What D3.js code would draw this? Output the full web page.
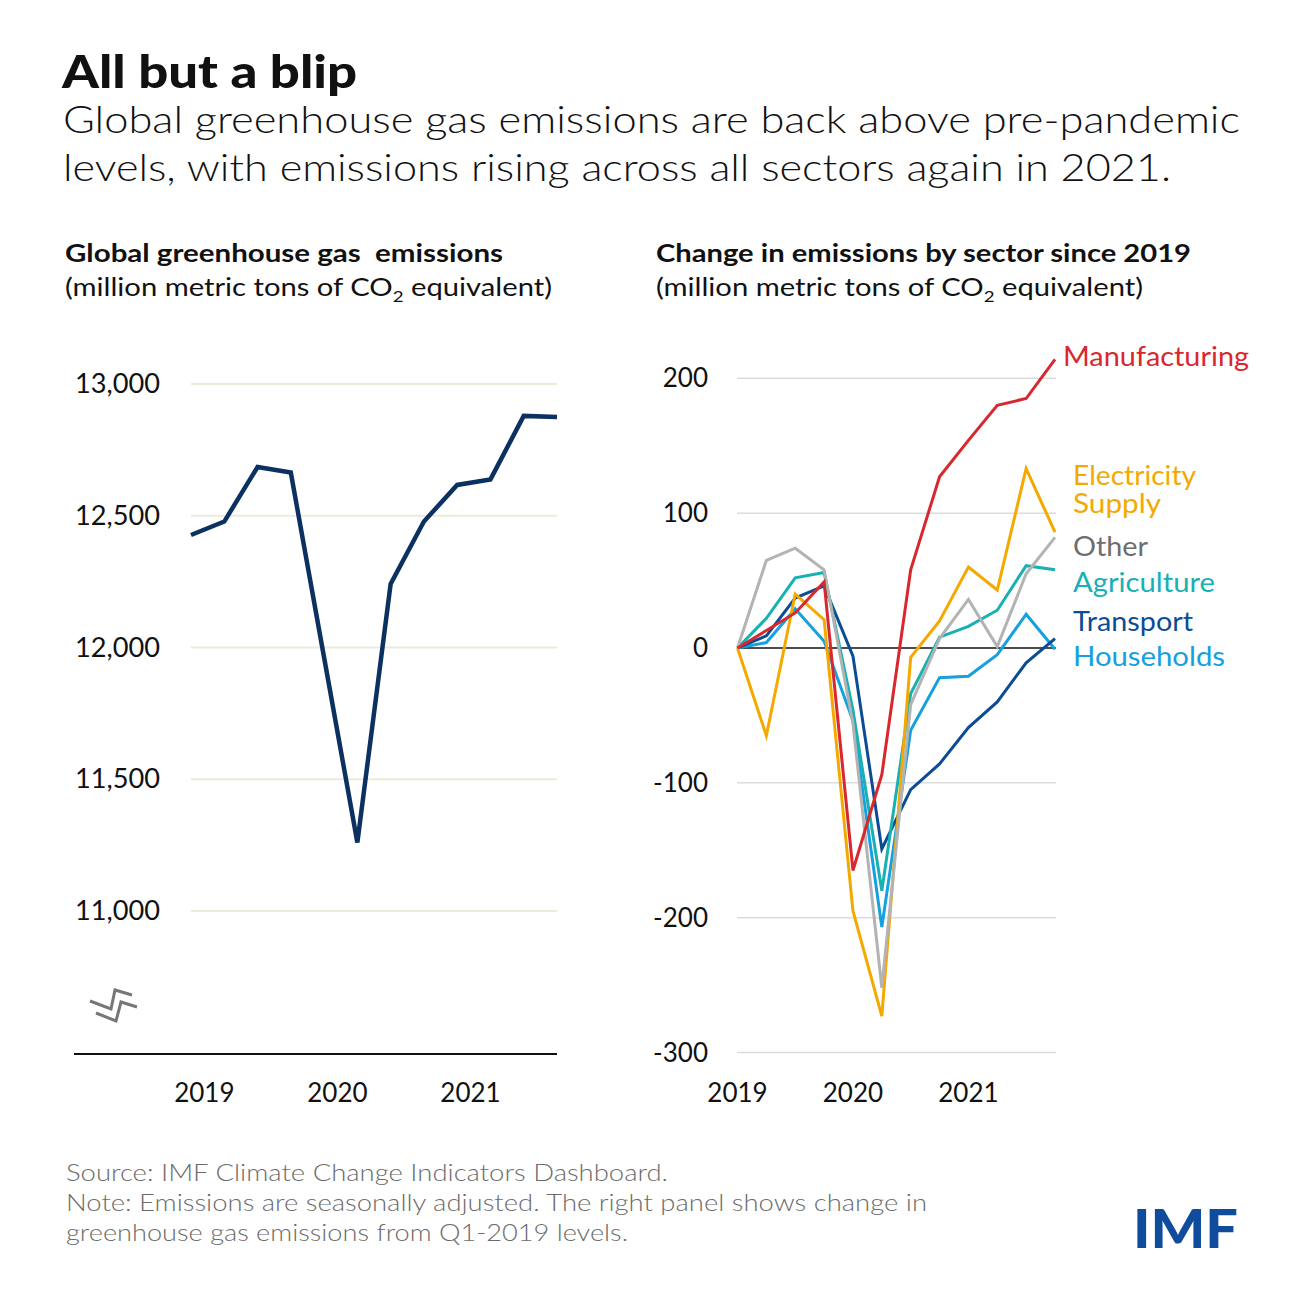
<!DOCTYPE html>
<html>
<head>
<meta charset="utf-8">
<script src="https://cdn.jsdelivr.net/npm/d3@7"></script>
<style>
  body { margin: 0; background: #fff; }
  svg { display: block; font-family: Lato, "Open Sans", sans-serif; }
</style>
</head>
<body>
<div id="chart"></div>
<script>
// quarterly data, Q1-2019 .. Q4-2021
const quarters = ["2019Q1", "2019Q2", "2019Q3", "2019Q4", "2020Q1", "2020Q2",
    "2020Q3", "2020Q4", "2021Q1", "2021Q2", "2021Q3", "2021Q4"];
const yearLabels = ["2019", "2020", "2021"];

const totalEmissions = [12427, 12478, 12685, 12664, 11962, 11260,
    12241, 12478, 12617, 12638, 12879, 12875];
const totalTicks = [11000, 11500, 12000, 12500, 13000];

const sectorNames = ["Households", "Transport", "Agriculture", "Other", "Electricity Supply", "Manufacturing"];
const manufacturing = [0, 13, 26, 49, -165, -94, 58, 127, 154, 180, 185, 214];
const electricity = [0, -65, 40, 21, -195, -273, -7, 20, 60, 43, 133, 86];
const other = [0, 65, 74, 58, -56, -252, -42, 7, 36, 1, 55, 82];
const agriculture = [0, 22, 52, 56, -46, -180, -34, 8, 16, 28, 61, 58];
const transport = [0, 9, 37, 46, -6, -149, -105, -86, -59, -40, -11, 7];
const households = [0, 4, 29, 5, -54, -207, -61, -22, -21, -5, 25, -1];
const changeTicks = [-300, -200, -100, 0, 100, 200];

const sectorValues = {
    "Manufacturing": manufacturing,
    "Electricity Supply": electricity,
    "Other": other,
    "Agriculture": agriculture,
    "Transport": transport,
    "Households": households
};
const sectorColors = {
    "Manufacturing": "#d9272e",
    "Electricity Supply": "#f4a900",
    "Other": "#b3b3b3",
    "Agriculture": "#17b1b4",
    "Transport": "#0b4c94",
    "Households": "#15a0e0"
};
const labelColors = Object.assign({}, sectorColors, { "Other": "#6e6e6e" });

const W = 1300, H = 1300;
const svg = d3.select('#chart').append('svg')
    .attr('width', W)
    .attr('height', H);

// stretch a text to a given width (reference font is wider than Lato)
function fit(sel, width) {
    return sel.attr('textLength', width).attr('lengthAdjust', 'spacingAndGlyphs');
}

// ---- Header ----
fit(svg.append('text')
    .attr('x', 62).attr('y', 88)
    .attr('font-size', 46).attr('font-weight', 900)
    .attr('fill', '#111')
    .text('All but a blip'), 295);

const subtitle = [
    'Global greenhouse gas emissions are back above pre-pandemic',
    'levels, with emissions rising across all sectors again in 2021.'
];
const subtitleWidths = [1177, 1108];
subtitle.forEach((line, i) => {
    fit(svg.append('text')
        .attr('x', 63).attr('y', 133 + i * 48)
        .attr('font-size', 38).attr('font-weight', 300)
        .attr('fill', '#111')
        .text(line), subtitleWidths[i]);
});

function panelTitle(x, title, titleW, subW) {
    fit(svg.append('text')
        .attr('x', x).attr('y', 262)
        .attr('font-size', 25).attr('font-weight', 700)
        .attr('fill', '#111')
        .attr('xml:space', 'preserve')
        .text(title), titleW);
    const sub = svg.append('text')
        .attr('x', x).attr('y', 296)
        .attr('font-size', 25).attr('font-weight', 400)
        .attr('fill', '#111');
    sub.append('tspan').text('(million metric tons of CO');
    sub.append('tspan').attr('font-size', 16).attr('dy', 6).text('2');
    sub.append('tspan').attr('dy', -6).text(' equivalent)');
    fit(sub, subW);
}
panelTitle(65, 'Global greenhouse gas  emissions', 438, 487);
panelTitle(656, 'Change in emissions by sector since 2019', 535, 487);

// ---- Left panel ----
const xL = d3.scaleLinear().domain([0, quarters.length - 1]).range([191, 557]);
const yL = d3.scaleLinear().domain([11000, 13000]).range([911, 384]);

const left = svg.append('g');

left.selectAll('.grid')
    .data(totalTicks)
    .enter().append('line')
    .attr('x1', 191).attr('x2', 557)
    .attr('y1', d => yL(d)).attr('y2', d => yL(d))
    .attr('stroke', '#ece9de').attr('stroke-width', 2);

left.selectAll('.ytick')
    .data(totalTicks)
    .enter().append('text')
    .attr('x', 160).attr('y', d => yL(d) + 9)
    .attr('text-anchor', 'end')
    .attr('font-size', 26).attr('fill', '#111')
    .attr('textLength', 85).attr('lengthAdjust', 'spacingAndGlyphs')
    .text(d => d3.format(',')(d));

left.append('line')
    .attr('x1', 74).attr('x2', 557)
    .attr('y1', 1054).attr('y2', 1054)
    .attr('stroke', '#111').attr('stroke-width', 2);

left.selectAll('.xtick')
    .data(yearLabels)
    .enter().append('text')
    .attr('x', (d, i) => xL(i * 4 + 0.4))
    .attr('y', 1102)
    .attr('text-anchor', 'middle')
    .attr('font-size', 26).attr('fill', '#111')
    .text(d => d);

// axis break symbol
const brk = left.append('g')
    .attr('fill', 'none').attr('stroke', '#777').attr('stroke-width', 3);
brk.append('path').attr('d', 'M90,1001 L111,1009 L115,990 L132,995');
brk.append('path').attr('d', 'M96,1013 L116,1021 L121,1002 L137,1007');

const lineL = d3.line()
    .x((d, i) => xL(i))
    .y(d => yL(d));

left.append('path')
    .datum(totalEmissions)
    .attr('d', lineL)
    .attr('fill', 'none')
    .attr('stroke', '#0b3160')
    .attr('stroke-width', 4.5)
    .attr('stroke-linejoin', 'miter');

// ---- Right panel ----
const xR = d3.scaleLinear().domain([0, quarters.length - 1]).range([737.5, 1055]);
const yR = d3.scaleLinear().domain([-300, 200]).range([1052.5, 378.3]);

const right = svg.append('g');

right.selectAll('.grid')
    .data(changeTicks.filter(d => d !== 0))
    .enter().append('line')
    .attr('x1', 737).attr('x2', 1056)
    .attr('y1', d => yR(d)).attr('y2', d => yR(d))
    .attr('stroke', '#dcdcdc').attr('stroke-width', 1.5);

right.selectAll('.ytick')
    .data(changeTicks)
    .enter().append('text')
    .attr('x', 708).attr('y', d => yR(d) + 9)
    .attr('text-anchor', 'end')
    .attr('font-size', 26).attr('fill', '#111')
    .text(d => d);

right.selectAll('.xtick')
    .data(yearLabels)
    .enter().append('text')
    .attr('x', (d, i) => xR(i * 4))
    .attr('y', 1102)
    .attr('text-anchor', 'middle')
    .attr('font-size', 26).attr('fill', '#111')
    .text(d => d);

right.append('line')
    .attr('x1', 737).attr('x2', 1056)
    .attr('y1', yR(0)).attr('y2', yR(0))
    .attr('stroke', '#111').attr('stroke-width', 1.5);

const lineR = d3.line()
    .x((d, i) => xR(i))
    .y(d => yR(d));

const drawOrder = ["Households", "Transport", "Agriculture", "Electricity Supply", "Other", "Manufacturing"];
right.selectAll('.sector')
    .data(drawOrder)
    .enter().append('path')
    .attr('d', d => lineR(sectorValues[d]))
    .attr('fill', 'none')
    .attr('stroke', d => sectorColors[d])
    .attr('stroke-width', 3);

// direct labels (each line its own text)
const labelRows = [
    { name: "Manufacturing", text: "Manufacturing", width: 186, x: 1063, y: 366 },
    { name: "Electricity Supply", text: "Electricity", width: 123, x: 1073, y: 485 },
    { name: "Electricity Supply", text: "Supply", width: 88, x: 1073, y: 513 },
    { name: "Other", text: "Other", width: 75, x: 1073, y: 556 },
    { name: "Agriculture", text: "Agriculture", width: 142, x: 1073, y: 592 },
    { name: "Transport", text: "Transport", width: 120, x: 1073, y: 631 },
    { name: "Households", text: "Households", width: 152, x: 1073, y: 666 }
];
svg.selectAll('.label')
    .data(labelRows)
    .enter().append('text')
    .attr('x', d => d.x).attr('y', d => d.y)
    .attr('font-size', 26)
    .attr('fill', d => labelColors[d.name])
    .attr('textLength', d => d.width).attr('lengthAdjust', 'spacingAndGlyphs')
    .text(d => d.text);

// ---- Footer ----
const notes = [
    'Source: IMF Climate Change Indicators Dashboard.',
    'Note: Emissions are seasonally adjusted. The right panel shows change in',
    'greenhouse gas emissions from Q1-2019 levels.'
];
const noteWidths = [602, 861, 562];
notes.forEach((n, i) => {
    fit(svg.append('text')
        .attr('x', 66).attr('y', 1181 + i * 30)
        .attr('font-size', 23).attr('font-weight', 300)
        .attr('fill', '#6b6b6b')
        .text(n), noteWidths[i]);
});

svg.append('text')
    .attr('x', 1133).attr('y', 1248)
    .attr('font-size', 54).attr('font-weight', 900)
    .attr('fill', '#0f4c9c')
    .attr('textLength', 105)
    .attr('lengthAdjust', 'spacingAndGlyphs')
    .text('IMF');
</script>
</body>
</html>
